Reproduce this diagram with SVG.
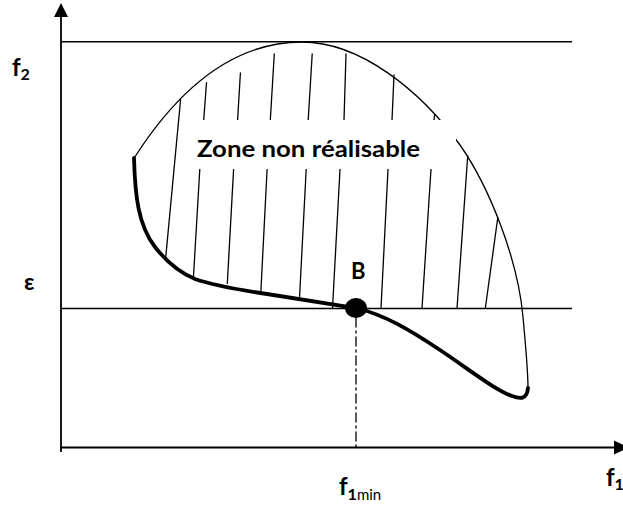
<svg xmlns="http://www.w3.org/2000/svg" width="623" height="507" viewBox="0 0 623 507">
<style>
.ax{stroke:#000;stroke-width:1.8;fill:none}
.ln{stroke:#000;stroke-width:1.5;fill:none}
.th{stroke:#000;stroke-width:1.3;fill:none;stroke-linecap:round}
.thick{stroke:#000;stroke-width:3.8;fill:none;stroke-linecap:round}
.lbl{font-family:Lato,"Liberation Sans",sans-serif;font-weight:bold;fill:#000}
</style>
<rect width="623" height="507" fill="#fff"/>
<g id="axes">
<line class="ax" x1="61" y1="15" x2="61" y2="452"/>
<polygon points="61,3 54,17 68,17" fill="#000"/>
<line class="ax" x1="60" y1="447.5" x2="615" y2="447.5"/>
<polygon points="629,447.5 614,440.5 614,454.5" fill="#000"/>
</g>
<g id="levels">
<line class="ln" x1="61" y1="41.7" x2="572" y2="41.7"/>
<line class="ln" x1="61" y1="308.5" x2="572" y2="308.5"/>
<line class="th" x1="356" y1="318" x2="356" y2="447" stroke-dasharray="9 4 2 4" stroke-linecap="butt"/>
</g>
<g id="region">
<path class="th" d="M134.8,157 C165,110 220,42 302,42 C360,42 420,90 460,145 C490,188 518,260 523,317 C526,350 528,370 528,388"/>
<g id="hatch">
<line class="th" x1="180.6" y1="99.3" x2="165.8" y2="256.7"/>
<line class="th" x1="206.5" y1="82.7" x2="203.7" y2="120"/>
<line class="th" x1="240.4" y1="73" x2="237.6" y2="120"/>
<line class="th" x1="274.3" y1="54" x2="270.3" y2="120"/>
<line class="th" x1="312.2" y1="54" x2="308.2" y2="120"/>
<line class="th" x1="346" y1="54" x2="344" y2="120"/>
<line class="th" x1="394" y1="75" x2="392" y2="120"/>
<line class="th" x1="434.6" y1="115" x2="434" y2="120"/>
<line class="th" x1="199.8" y1="169.3" x2="193.4" y2="278"/>
<line class="th" x1="233.6" y1="169.3" x2="227.3" y2="283.5"/>
<line class="th" x1="267.1" y1="169.3" x2="260.8" y2="293"/>
<line class="th" x1="306.2" y1="169.3" x2="299.5" y2="298"/>
<line class="th" x1="340" y1="169.3" x2="332.5" y2="308.5"/>
<line class="th" x1="388" y1="169.3" x2="381" y2="308.5"/>
<line class="th" x1="431" y1="169.3" x2="422" y2="308.5"/>
<line class="th" x1="467.7" y1="156" x2="457" y2="308.5"/>
<line class="th" x1="497.8" y1="217.5" x2="485.3" y2="308.5"/>
</g>
<rect x="190" y="120" width="266" height="49" fill="#fff"/>
<text class="lbl" x="197" y="157" font-size="23" textLength="223" lengthAdjust="spacingAndGlyphs">Zone non réalisable</text>
</g>
<g id="front">
<path class="thick" d="M134,158 C135,195 138,225 155,247 C166,261 178,272 195,279 C215,286 240,290 267,294 C300,299 330,304 356,308 C385,315 410,330 440,350 C470,370 495,390 512,396 C522,400 527,398 528,388"/>
</g>
<g id="B">
<ellipse cx="356" cy="308" rx="11" ry="10" fill="#000"/>
<text class="lbl" x="351" y="278.5" font-size="22">B</text>
</g>
<g id="labels">
<text class="lbl" x="12" y="76" font-size="24">f<tspan font-size="16" dy="4">2</tspan></text>
<text class="lbl" x="24" y="289.5" font-size="23">ε</text>
<text class="lbl" x="339" y="495" font-size="24">f<tspan font-size="16" dy="5">1</tspan><tspan font-size="15" font-weight="normal">min</tspan></text>
<text class="lbl" x="606" y="485.5" font-size="24">f<tspan font-size="16" dy="4">1</tspan></text>
</g>
</svg>
